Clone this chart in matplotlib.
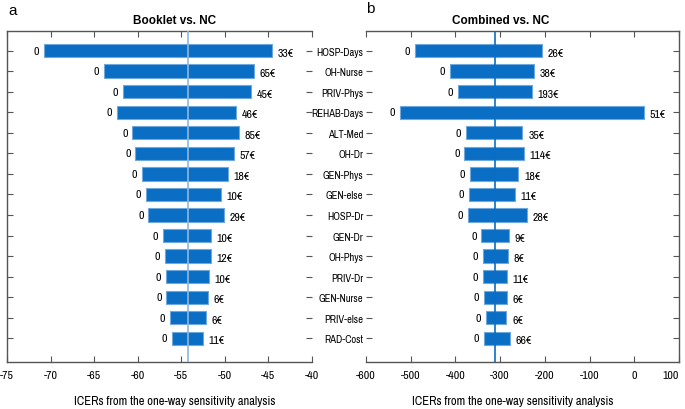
import numpy as np
import matplotlib.pyplot as plt
from matplotlib import font_manager

# ---- data ----
categories = ['HOSP-Days', 'OH-Nurse', 'PRIV-Phys', 'REHAB-Days', 'ALT-Med', 'OH-Dr',
              'GEN-Phys', 'GEN-else', 'HOSP-Dr', 'GEN-Dr', 'OH-Phys', 'PRIV-Dr',
              'GEN-Nurse', 'PRIV-else', 'RAD-Cost']

# a) Booklet vs. NC
booklet_low = [-70.8, -63.9, -61.7, -62.4, -60.6, -60.3, -59.5, -59.1, -58.8,
               -57.1, -56.9, -56.8, -56.7, -56.3, -56.1]
booklet_high = [-44.6, -46.7, -47.0, -48.7, -48.4, -49.0, -49.6, -50.4, -50.1,
                -51.6, -51.6, -51.8, -51.9, -52.2, -52.5]
booklet_left_txt = ['0'] * 15
booklet_right_txt = ['33€', '65€', '45€', '46€', '85€', '57€', '18€', '10€', '29€',
                     '10€', '12€', '10€', '6€', '6€', '11€']
booklet_base = -54.2

# b) Combined vs. NC
combined_low = [-490, -412, -394, -525, -377, -380, -368, -370, -372,
                -342, -338, -339, -337, -332, -337]
combined_high = [-207, -225, -229, 21, -250, -246, -259, -267, -240,
                 -281, -283, -284, -284, -286, -279]
combined_left_txt = ['0'] * 15
combined_right_txt = ['26€', '38€', '193€', '51€', '35€', '114€', '18€', '11€', '28€',
                      '9€', '8€', '11€', '6€', '6€', '66€']
combined_base = -311

xlim_a = (-75, -40)
xticks_a = [-75, -70, -65, -60, -55, -50, -45, -40]
xlim_b = (-600, 100)
xticks_b = [-600, -500, -400, -300, -200, -100, 0, 100]

# the reference uses a narrow sans; take a condensed face if one is installed
narrow = None
for f in font_manager.fontManager.ttflist:
    if 'Narrow' in f.name:
        narrow = (f.name, 'normal')
        break
if narrow is None:
    for f in font_manager.fontManager.ttflist:
        if f.name == 'DejaVu Sans' and f.stretch == 'condensed':
            narrow = ('DejaVu Sans', 'condensed')
            break
if narrow is None:
    narrow = ('Liberation Sans', 'normal')
    FS = 7.0
    FS_Y = 6.5
else:
    FS = 8.5
    FS_Y = 7.6

plt.rcParams['font.family'] = [narrow[0], 'DejaVu Sans']
plt.rcParams['font.stretch'] = narrow[1]
plt.rcParams['axes.unicode_minus'] = False

BAR = '#0A6EC4'
EDGE = '#6FA8DC'
SPINE = '#555555'

fig = plt.figure(figsize=(6.85, 4.10), dpi=100)
ax_a = fig.add_axes([7 / 685, 1 - 363 / 410, 305 / 685, 331 / 410])
ax_b = fig.add_axes([366 / 685, 1 - 363 / 410, 313 / 685, 331 / 410])

y = np.arange(1, len(categories) + 1)


def draw_panel(ax, low, high, ltxt, rtxt, base, xlim, xticks, base_color, title, title_x):
    low = np.array(low, dtype=float)
    high = np.array(high, dtype=float)
    ax.barh(y, high - low, left=low, height=0.65, color=BAR,
            edgecolor=EDGE, linewidth=0.8, zorder=2)
    ax.axvline(base, color=base_color, lw=1.2, zorder=3)
    span = xlim[1] - xlim[0]
    for yi, lo, hi, lt, rt in zip(y, low, high, ltxt, rtxt):
        ax.text(lo - span * 0.015, yi, lt, ha='right', va='center', fontsize=FS)
        ax.text(hi + span * 0.018, yi + 0.1, rt, ha='left', va='center', fontsize=FS)
    ax.set_xlim(*xlim)
    ax.set_xticks(xticks)
    ax.set_ylim(16.15, 0.05)
    ax.set_yticks(y)
    ax.tick_params(axis='both', direction='in', length=4, width=0.8, color=SPINE,
                   labelsize=FS, top=True, right=True)
    ax.tick_params(axis='x', pad=6)
    for s in ax.spines.values():
        s.set_color(SPINE)
        s.set_linewidth(1.0)
    ax.set_title(title, fontsize=8.5, fontweight='bold', x=title_x, pad=6,
                 family=['Liberation Sans', 'DejaVu Sans'], stretch='normal')
    ax.set_xlabel('ICERs from the one-way sensitivity analysis', fontsize=FS + 0.5)


draw_panel(ax_a, booklet_low, booklet_high, booklet_left_txt, booklet_right_txt,
           booklet_base, xlim_a, xticks_a, '#8DB8E0', 'Booklet vs. NC', 0.55)
ax_a.set_yticklabels([])
ax_a.spines['right'].set_visible(False)
ax_a.xaxis.set_label_coords(0.55, -0.1)

draw_panel(ax_b, combined_low, combined_high, combined_left_txt, combined_right_txt,
           combined_base, xlim_b, xticks_b, BAR, 'Combined vs. NC', 0.43)
ax_b.set_yticklabels(categories, fontsize=FS_Y)
ax_b.tick_params(axis='y', pad=2)
ax_b.spines['left'].set_visible(False)
ax_b.xaxis.set_label_coords(0.47, -0.1)
# keep the last tick label inside the canvas
ax_b.get_xticklabels()[-1].set_horizontalalignment('right')
ax_b.get_xticklabels()[-1].set_x(100)

fig.text(8 / 685, 1 - 11 / 410, 'a', fontsize=11, va='center', ha='left',
         family=['Liberation Sans', 'DejaVu Sans'], stretch='normal')
fig.text(366 / 685, 1 - 9 / 410, 'b', fontsize=11, va='center', ha='left',
         family=['Liberation Sans', 'DejaVu Sans'], stretch='normal')

fig.savefig('out.png', dpi=100)
